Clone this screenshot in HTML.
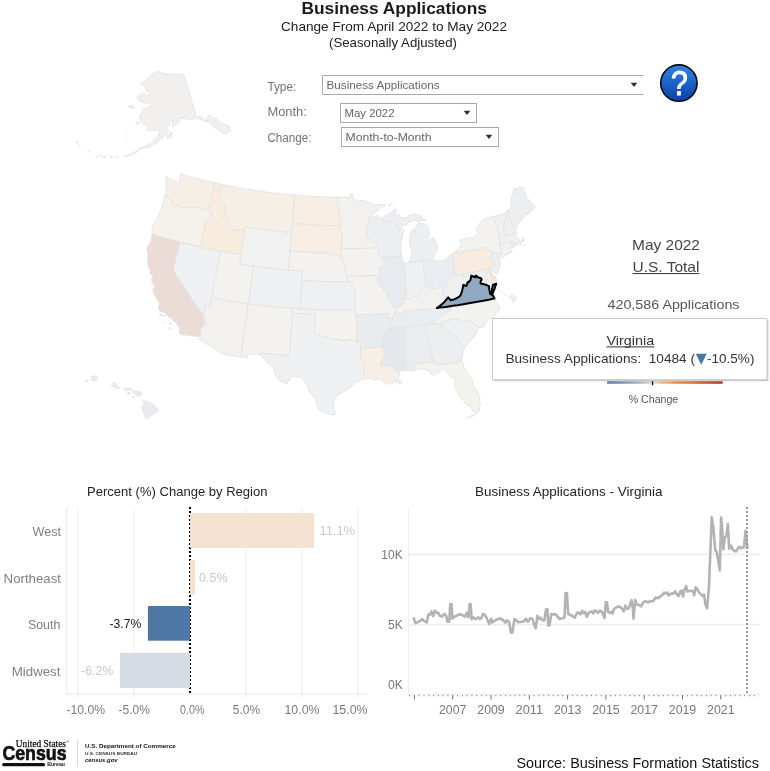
<!DOCTYPE html>
<html lang="en"><head><meta charset="utf-8"><title>Business Applications</title>
<style>
html,body{margin:0;padding:0;background:#fff;}
body{width:770px;height:771px;overflow:hidden;position:relative;}
svg{position:absolute;left:0;top:0;display:block;}
text{font-family:"Liberation Sans", sans-serif;}
</style></head><body>
<svg width="770" height="771" viewBox="0 0 770 771">
<rect width="770" height="771" fill="#fff"/>
<g id="map">
<g stroke="#e3e3e3" stroke-width="0.9" stroke-linejoin="round">
<path d="M180.0 173.9L182.2 174.6L184.5 175.2L186.8 175.9L189.1 176.5L191.5 177.1L193.8 177.7L196.1 178.3L198.4 178.9L200.7 179.5L203.0 180.1L205.3 180.6L207.6 181.2L210.0 181.7L212.3 182.3L214.6 182.8L213.9 186.1L213.1 189.5L212.4 192.8L211.6 196.2L210.8 199.5L210.1 202.9L209.3 206.3L209.4 208.4L209.2 210.3L207.0 209.8L204.8 209.3L202.6 208.8L200.5 208.3L198.3 207.7L196.1 207.2L193.9 207.3L191.9 207.3L189.9 207.3L187.8 207.4L185.7 207.5L183.4 207.3L181.1 207.0L179.5 206.2L177.8 205.4L175.9 205.6L173.9 205.7L172.6 204.9L171.3 204.0L171.7 201.7L171.0 199.2L169.6 198.2L168.2 197.2L166.5 196.7L164.8 196.2L165.6 194.2L166.3 192.3L166.1 189.7L166.1 187.0L166.0 184.4L165.6 180.3L166.0 178.1L166.5 175.9L168.4 177.5L170.3 179.1L172.0 179.9L173.8 180.7L175.3 181.2L176.8 181.7L178.0 184.0L177.9 186.9L179.2 184.4L180.1 181.7L179.4 179.6L180.9 176.6L180.0 173.9Z" fill="#f6efe6"/>
<path d="M164.8 196.2L166.5 196.7L168.2 197.2L169.6 198.2L171.0 199.2L171.7 201.7L171.3 204.0L172.6 204.9L173.9 205.7L175.9 205.6L177.8 205.4L179.5 206.2L181.1 207.0L183.4 207.3L185.7 207.5L187.8 207.4L189.9 207.3L191.9 207.3L193.9 207.3L196.1 207.2L198.3 207.7L200.5 208.3L202.6 208.8L204.8 209.3L207.0 209.8L209.2 210.3L210.2 212.4L210.8 215.4L209.2 217.5L207.6 219.6L205.8 221.6L204.2 224.1L205.3 226.8L204.0 230.1L203.3 233.4L202.5 236.8L201.8 240.2L201.0 243.6L200.3 247.0L197.8 246.4L195.2 245.8L192.7 245.2L190.2 244.6L187.7 244.0L185.2 243.4L182.7 242.8L180.2 242.1L177.7 241.5L175.1 240.8L172.5 240.1L170.0 239.4L167.4 238.7L164.9 238.0L162.3 237.3L159.7 236.5L157.2 235.8L154.7 235.0L152.1 234.3L152.0 230.2L152.2 228.2L152.5 226.1L154.1 223.8L155.7 221.5L156.9 218.9L158.1 216.3L159.3 213.2L160.4 210.1L161.4 208.0L162.4 205.8L163.5 202.7L164.5 199.5L164.8 196.2Z" fill="#f5f2ec"/>
<path d="M152.1 234.3L154.7 235.0L157.2 235.8L159.7 236.5L162.3 237.3L164.9 238.0L167.4 238.7L170.0 239.4L172.5 240.1L175.1 240.8L177.7 241.5L180.2 242.1L179.4 245.6L178.5 249.0L177.6 252.5L176.7 255.9L175.8 259.4L174.9 262.8L174.0 266.2L173.2 269.7L175.2 273.0L177.2 276.3L179.3 279.6L181.4 282.9L183.5 286.2L185.7 289.5L187.8 292.8L190.0 296.1L192.3 299.3L194.5 302.6L196.8 305.8L199.1 309.1L201.4 312.3L203.7 315.5L203.8 317.0L204.5 320.5L206.0 322.8L203.7 324.7L202.2 327.8L200.2 330.3L201.0 334.3L198.8 336.6L196.1 336.3L193.4 336.0L190.7 335.7L188.0 335.4L185.4 335.1L182.7 334.8L180.0 334.4L179.3 332.6L179.8 328.9L178.3 326.4L176.9 323.8L175.0 321.9L172.8 320.9L172.7 318.2L170.4 317.9L169.0 316.8L167.7 315.8L166.1 314.2L164.5 312.5L161.7 311.6L158.9 310.6L158.5 307.5L159.3 303.8L158.0 301.1L155.9 297.5L154.4 294.2L153.0 290.8L153.4 288.0L155.0 286.5L153.9 284.7L152.8 283.1L151.7 281.6L151.8 278.7L152.6 275.9L151.1 274.5L149.6 273.1L150.4 270.3L149.1 268.0L147.9 265.7L147.4 262.5L147.7 260.2L148.0 257.8L147.9 255.2L147.7 252.7L147.1 250.4L146.5 248.0L148.0 246.2L149.5 244.3L150.4 242.1L151.3 240.0L151.5 236.5L152.1 234.3Z" fill="#ecdcd8"/>
<path d="M180.2 242.1L182.7 242.8L185.2 243.4L187.7 244.0L190.2 244.6L192.7 245.2L195.2 245.8L197.8 246.4L200.3 247.0L202.8 247.5L205.3 248.1L207.9 248.6L210.4 249.1L212.9 249.7L215.5 250.2L218.0 250.7L220.6 251.2L219.9 254.7L219.2 258.3L218.5 261.9L217.8 265.5L217.2 269.1L216.5 272.7L215.8 276.2L215.1 279.8L214.4 283.4L213.7 287.0L213.1 290.6L212.4 294.2L211.7 297.8L211.0 301.5L210.3 305.2L207.5 305.2L204.8 305.6L204.7 307.8L204.5 309.9L204.5 313.8L203.7 315.5L201.4 312.3L199.1 309.1L196.8 305.8L194.5 302.6L192.3 299.3L190.0 296.1L187.8 292.8L185.7 289.5L183.5 286.2L181.4 282.9L179.3 279.6L177.2 276.3L175.2 273.0L173.2 269.7L174.0 266.2L174.9 262.8L175.8 259.4L176.7 255.9L177.6 252.5L178.5 249.0L179.4 245.6L180.2 242.1Z" fill="#eef0f2"/>
<path d="M214.6 182.8L216.6 183.2L218.6 183.7L220.6 184.1L220.0 187.1L219.3 190.1L218.7 193.2L219.3 195.7L219.9 198.2L220.9 199.6L221.9 201.0L223.1 202.5L224.3 203.9L225.6 207.5L226.8 207.7L226.1 210.0L225.3 212.2L224.5 214.7L223.7 217.1L225.1 218.4L227.6 217.4L228.3 219.0L228.9 222.0L229.6 225.0L230.6 226.6L231.7 228.2L233.0 230.4L234.7 230.2L236.5 230.0L239.1 230.2L241.8 230.5L243.4 229.3L244.7 231.4L244.2 234.7L243.7 238.1L243.1 241.4L242.6 244.7L242.1 248.1L241.5 251.4L241.0 254.7L238.5 254.3L235.9 253.9L233.3 253.5L230.8 253.0L228.2 252.6L225.7 252.1L223.1 251.6L220.6 251.2L218.0 250.7L215.5 250.2L212.9 249.7L210.4 249.1L207.9 248.6L205.3 248.1L202.8 247.5L200.3 247.0L201.0 243.6L201.8 240.2L202.5 236.8L203.3 233.4L204.0 230.1L205.3 226.8L204.2 224.1L205.8 221.6L207.6 219.6L209.2 217.5L210.8 215.4L210.2 212.4L209.2 210.3L209.4 208.4L209.3 206.3L210.1 202.9L210.8 199.5L211.6 196.2L212.4 192.8L213.1 189.5L213.9 186.1L214.6 182.8Z" fill="#f8ecdf"/>
<path d="M220.6 184.1L223.0 184.6L225.5 185.1L227.9 185.6L230.4 186.1L232.8 186.6L235.3 187.0L237.8 187.5L240.2 187.9L242.7 188.3L245.1 188.8L247.6 189.2L250.1 189.6L252.5 190.0L255.0 190.4L257.5 190.7L260.0 191.1L262.4 191.4L264.9 191.8L267.4 192.1L269.9 192.4L272.3 192.7L274.8 193.0L277.3 193.3L279.8 193.6L282.3 193.9L284.7 194.1L287.2 194.4L289.7 194.6L292.2 194.8L294.7 195.0L294.4 198.6L294.1 202.1L293.8 205.7L293.5 209.2L293.2 212.8L292.9 216.4L292.6 219.9L292.3 223.5L292.1 226.4L291.8 229.4L291.6 232.3L289.0 232.1L286.4 231.9L283.9 231.6L281.3 231.4L278.7 231.1L276.2 230.8L273.6 230.6L271.0 230.3L268.5 230.0L265.9 229.6L263.3 229.3L260.8 229.0L258.2 228.6L255.7 228.3L253.1 227.9L250.6 227.5L248.0 227.1L245.4 226.7L245.1 229.1L244.7 231.4L243.4 229.3L241.8 230.5L239.1 230.2L236.5 230.0L234.7 230.2L233.0 230.4L231.7 228.2L230.6 226.6L229.6 225.0L228.9 222.0L228.3 219.0L227.6 217.4L225.1 218.4L223.7 217.1L224.5 214.7L225.3 212.2L226.1 210.0L226.8 207.7L225.6 207.5L224.3 203.9L223.1 202.5L221.9 201.0L220.9 199.6L219.9 198.2L219.3 195.7L218.7 193.2L219.3 190.1L220.0 187.1L220.6 184.1Z" fill="#f6efe6"/>
<path d="M245.4 226.7L248.0 227.1L250.6 227.5L253.1 227.9L255.7 228.3L258.2 228.6L260.8 229.0L263.3 229.3L265.9 229.6L268.5 230.0L271.0 230.3L273.6 230.6L276.2 230.8L278.7 231.1L281.3 231.4L283.9 231.6L286.4 231.9L289.0 232.1L291.6 232.3L291.3 236.1L290.9 239.8L290.6 243.6L290.3 247.4L290.0 251.1L289.7 254.9L289.4 258.7L289.1 262.4L288.7 266.2L288.4 270.0L285.7 269.8L283.0 269.5L280.3 269.3L277.6 269.0L274.9 268.7L272.3 268.4L269.6 268.2L266.9 267.8L264.2 267.5L261.5 267.2L258.8 266.9L256.1 266.5L253.5 266.1L250.7 265.8L247.9 265.4L245.1 264.9L242.3 264.5L239.5 264.1L240.0 261.0L240.5 257.8L241.0 254.7L241.5 251.4L242.1 248.1L242.6 244.7L243.1 241.4L243.7 238.1L244.2 234.7L244.7 231.4L245.1 229.1L245.4 226.7Z" fill="#f1f1f1"/>
<path d="M220.6 251.2L223.1 251.6L225.7 252.1L228.2 252.6L230.8 253.0L233.3 253.5L235.9 253.9L238.5 254.3L241.0 254.7L240.5 257.8L240.0 261.0L239.5 264.1L242.3 264.5L245.1 264.9L247.9 265.4L250.7 265.8L253.5 266.1L252.9 269.9L252.4 273.7L251.9 277.4L251.4 281.2L250.9 284.9L250.4 288.7L249.8 292.5L249.3 296.2L248.8 300.0L248.3 303.8L245.5 303.4L242.6 303.0L239.8 302.5L237.0 302.1L234.2 301.7L231.4 301.2L228.5 300.8L225.7 300.3L222.9 299.8L220.1 299.3L217.3 298.8L214.5 298.3L211.7 297.8L212.4 294.2L213.1 290.6L213.7 287.0L214.4 283.4L215.1 279.8L215.8 276.2L216.5 272.7L217.2 269.1L217.8 265.5L218.5 261.9L219.2 258.3L219.9 254.7L220.6 251.2Z" fill="#f4f2ee"/>
<path d="M253.5 266.1L256.1 266.5L258.8 266.9L261.5 267.2L264.2 267.5L266.9 267.8L269.6 268.2L272.3 268.4L274.9 268.7L277.6 269.0L280.3 269.3L283.0 269.5L285.7 269.8L288.4 270.0L291.2 270.2L294.0 270.4L296.8 270.7L299.7 270.8L302.5 271.0L302.3 274.2L302.1 277.3L301.9 280.5L301.6 284.0L301.4 287.6L301.2 291.1L301.0 294.7L300.8 298.3L300.5 301.8L300.3 305.4L300.1 308.9L297.7 308.8L295.2 308.6L292.8 308.4L290.0 308.2L287.2 308.0L284.4 307.8L281.7 307.5L278.9 307.3L276.1 307.0L273.3 306.7L270.5 306.4L267.7 306.1L265.0 305.8L262.2 305.5L259.4 305.2L256.6 304.8L253.8 304.5L251.1 304.1L248.3 303.8L248.8 300.0L249.3 296.2L249.8 292.5L250.4 288.7L250.9 284.9L251.4 281.2L251.9 277.4L252.4 273.7L252.9 269.9L253.5 266.1Z" fill="#eef0f2"/>
<path d="M211.7 297.8L214.5 298.3L217.3 298.8L220.1 299.3L222.9 299.8L225.7 300.3L228.5 300.8L231.4 301.2L234.2 301.7L237.0 302.1L239.8 302.5L242.6 303.0L245.5 303.4L248.3 303.8L247.8 307.3L247.3 310.9L246.8 314.4L246.4 318.0L245.9 321.5L245.4 325.1L244.9 328.6L244.4 332.2L243.9 335.7L243.4 339.3L243.0 342.8L242.5 346.4L242.0 349.9L241.5 353.4L241.0 357.0L238.3 356.6L235.7 356.2L233.0 355.8L230.3 355.4L227.7 355.0L225.0 354.6L222.2 353.0L219.5 351.5L216.7 349.9L213.9 348.3L211.2 346.7L208.5 345.0L205.7 343.4L203.0 341.8L200.3 340.1L197.6 338.5L198.8 336.6L201.0 334.3L200.2 330.3L202.2 327.8L203.7 324.7L206.0 322.8L204.5 320.5L203.8 317.0L203.7 315.5L204.5 313.8L204.5 309.9L204.7 307.8L204.8 305.6L207.5 305.2L210.3 305.2L211.0 301.5L211.7 297.8Z" fill="#f2f1ef"/>
<path d="M248.3 303.8L251.1 304.1L253.8 304.5L256.6 304.8L259.4 305.2L262.2 305.5L265.0 305.8L267.7 306.1L270.5 306.4L273.3 306.7L276.1 307.0L278.9 307.3L281.7 307.5L284.4 307.8L287.2 308.0L290.0 308.2L292.8 308.4L292.6 310.8L292.5 313.2L292.2 316.7L291.9 320.3L291.6 323.8L291.4 327.3L291.1 330.9L290.8 334.4L290.5 338.0L290.2 341.5L290.0 345.1L289.7 348.6L289.4 352.1L289.1 355.7L286.0 355.4L282.9 355.2L279.7 354.9L276.6 354.6L273.5 354.3L270.4 354.0L267.2 353.7L264.1 353.4L261.0 353.1L261.5 355.2L258.8 354.9L256.2 354.6L253.5 354.3L250.9 354.0L248.2 353.6L247.9 355.7L247.7 357.8L245.5 357.6L243.2 357.3L241.0 357.0L241.5 353.4L242.0 349.9L242.5 346.4L243.0 342.8L243.4 339.3L243.9 335.7L244.4 332.2L244.9 328.6L245.4 325.1L245.9 321.5L246.4 318.0L246.8 314.4L247.3 310.9L247.8 307.3L248.3 303.8Z" fill="#f4f2ee"/>
<path d="M294.7 195.0L297.1 195.2L299.4 195.4L301.8 195.6L304.1 195.7L306.5 195.9L308.9 196.0L311.2 196.2L313.6 196.3L315.9 196.4L318.3 196.5L320.7 196.6L323.0 196.7L325.4 196.8L327.8 196.9L330.1 196.9L332.5 197.0L334.9 197.0L337.2 197.1L337.5 199.4L337.7 201.7L338.0 204.0L338.3 206.4L338.9 208.7L339.5 211.1L339.6 213.9L339.8 216.7L340.4 219.5L341.0 222.3L341.3 225.8L338.7 225.7L336.1 225.7L333.5 225.7L331.0 225.6L328.4 225.6L325.8 225.5L323.2 225.4L320.6 225.3L318.1 225.2L315.5 225.1L312.9 224.9L310.3 224.8L307.8 224.6L305.2 224.5L302.6 224.3L300.0 224.1L297.5 223.9L294.9 223.7L292.3 223.5L292.6 219.9L292.9 216.4L293.2 212.8L293.5 209.2L293.8 205.7L294.1 202.1L294.4 198.6L294.7 195.0Z" fill="#f7ede2"/>
<path d="M292.3 223.5L294.9 223.7L297.5 223.9L300.0 224.1L302.6 224.3L305.2 224.5L307.8 224.6L310.3 224.8L312.9 224.9L315.5 225.1L318.1 225.2L320.6 225.3L323.2 225.4L325.8 225.5L328.4 225.6L331.0 225.6L333.5 225.7L336.1 225.7L338.7 225.7L341.3 225.8L339.4 228.9L342.0 231.7L342.0 235.1L342.0 238.5L341.9 241.9L341.9 245.3L341.9 248.7L341.0 250.6L341.6 254.3L341.9 258.1L340.2 257.2L338.5 256.0L336.8 254.8L334.4 255.1L332.0 255.5L329.9 254.3L327.9 253.2L325.2 253.1L322.5 253.0L319.8 252.9L317.1 252.8L314.3 252.7L311.6 252.6L308.9 252.4L306.2 252.3L303.5 252.1L300.8 251.9L298.1 251.8L295.4 251.6L292.7 251.3L290.0 251.1L290.3 247.4L290.6 243.6L290.9 239.8L291.3 236.1L291.6 232.3L291.8 229.4L292.1 226.4L292.3 223.5Z" fill="#f7ede2"/>
<path d="M290.0 251.1L292.7 251.3L295.4 251.6L298.1 251.8L300.8 251.9L303.5 252.1L306.2 252.3L308.9 252.4L311.6 252.6L314.3 252.7L317.1 252.8L319.8 252.9L322.5 253.0L325.2 253.1L327.9 253.2L329.9 254.3L332.0 255.5L334.4 255.1L336.8 254.8L338.5 256.0L340.2 257.2L341.9 258.1L342.6 261.0L343.4 263.3L344.3 265.7L345.0 267.6L345.7 269.5L345.9 272.1L346.1 274.7L346.6 276.3L348.2 279.0L349.9 281.8L347.1 281.8L344.3 281.8L341.5 281.8L338.6 281.8L335.8 281.8L333.0 281.7L330.1 281.7L327.3 281.6L324.5 281.5L321.7 281.4L318.8 281.3L316.0 281.2L313.2 281.1L310.3 281.0L307.5 280.8L304.7 280.7L301.9 280.5L302.1 277.3L302.3 274.2L302.5 271.0L299.7 270.8L296.8 270.7L294.0 270.4L291.2 270.2L288.4 270.0L288.7 266.2L289.1 262.4L289.4 258.7L289.7 254.9L290.0 251.1Z" fill="#f3f2f0"/>
<path d="M301.9 280.5L304.7 280.7L307.5 280.8L310.3 281.0L313.2 281.1L316.0 281.2L318.8 281.3L321.7 281.4L324.5 281.5L327.3 281.6L330.1 281.7L333.0 281.7L335.8 281.8L338.6 281.8L341.5 281.8L344.3 281.8L347.1 281.8L349.9 281.8L352.2 282.7L352.9 284.1L351.5 286.0L352.9 287.9L355.1 290.2L355.1 293.5L355.2 296.9L355.2 300.2L355.2 303.5L355.3 306.9L355.3 310.2L352.4 310.2L349.5 310.3L346.6 310.3L343.7 310.3L340.8 310.3L337.9 310.3L335.0 310.2L332.1 310.2L329.1 310.1L326.2 310.1L323.3 310.0L320.4 309.9L317.5 309.8L314.6 309.7L311.7 309.5L308.8 309.4L305.9 309.3L303.0 309.1L300.1 308.9L300.3 305.4L300.5 301.8L300.8 298.3L301.0 294.7L301.2 291.1L301.4 287.6L301.6 284.0L301.9 280.5Z" fill="#eef0f2"/>
<path d="M292.8 308.4L295.2 308.6L297.7 308.8L300.1 308.9L303.0 309.1L305.9 309.3L308.8 309.4L311.7 309.5L314.6 309.7L317.5 309.8L320.4 309.9L323.3 310.0L326.2 310.1L329.1 310.1L332.1 310.2L335.0 310.2L337.9 310.3L340.8 310.3L343.7 310.3L346.6 310.3L349.5 310.3L352.4 310.2L355.3 310.2L355.4 312.6L355.4 315.0L355.9 318.4L356.5 321.9L357.0 325.4L357.0 328.7L357.0 332.0L356.9 335.4L356.9 338.7L356.9 342.1L354.9 341.1L352.8 340.1L350.9 340.0L349.0 339.9L347.0 340.5L345.1 341.1L342.8 340.6L340.4 340.2L338.1 339.2L335.8 339.6L333.9 339.2L331.9 338.8L328.9 337.4L326.9 337.2L325.0 337.1L322.7 336.3L320.4 335.5L318.5 335.0L316.6 334.4L314.4 332.8L314.5 329.2L314.7 325.5L314.8 321.8L315.0 318.1L315.1 314.4L312.3 314.3L309.5 314.2L306.6 314.0L303.8 313.9L301.0 313.7L298.1 313.5L295.3 313.4L292.5 313.2L292.6 310.8L292.8 308.4Z" fill="#f3f2ee"/>
<path d="M292.5 313.2L295.3 313.4L298.1 313.5L301.0 313.7L303.8 313.9L306.6 314.0L309.5 314.2L312.3 314.3L315.1 314.4L315.0 318.1L314.8 321.8L314.7 325.5L314.5 329.2L314.4 332.8L316.6 334.4L318.5 335.0L320.4 335.5L322.7 336.3L325.0 337.1L326.9 337.2L328.9 337.4L331.9 338.8L333.9 339.2L335.8 339.6L338.1 339.2L340.4 340.2L342.8 340.6L345.1 341.1L347.0 340.5L349.0 339.9L350.9 340.0L352.8 340.1L354.9 341.1L356.9 342.1L358.6 342.4L360.3 342.8L360.4 345.3L360.5 347.9L360.5 351.1L360.6 354.3L360.7 357.5L362.7 361.2L363.7 363.1L364.8 364.9L364.2 367.8L363.7 370.6L363.7 373.0L363.7 375.3L363.2 377.2L362.7 379.1L360.4 380.3L358.1 381.4L355.8 382.6L353.8 384.5L351.7 386.4L348.4 388.5L345.1 390.6L342.7 392.0L340.2 393.4L337.7 394.8L336.0 397.4L334.3 399.9L333.8 402.3L333.4 404.6L333.8 406.9L334.1 409.3L334.8 411.8L335.4 414.3L332.4 415.0L329.4 414.1L326.4 413.2L323.9 412.1L321.4 411.0L318.9 409.9L317.5 407.0L316.1 404.2L316.0 401.8L315.8 399.5L313.7 396.9L311.6 394.3L309.5 391.7L308.6 389.2L307.8 386.7L306.9 384.1L304.0 380.8L301.1 377.5L298.7 377.0L296.3 376.5L293.9 376.0L292.2 376.8L290.5 377.5L288.6 380.8L286.7 384.0L285.1 383.7L282.3 382.1L279.6 380.4L277.7 378.6L275.8 376.8L275.2 374.6L274.5 372.4L274.0 370.0L273.4 367.6L271.5 366.2L269.6 364.9L266.7 361.7L263.8 358.6L261.5 355.2L261.0 353.1L264.1 353.4L267.2 353.7L270.4 354.0L273.5 354.3L276.6 354.6L279.7 354.9L282.9 355.2L286.0 355.4L289.1 355.7L289.4 352.1L289.7 348.6L290.0 345.1L290.2 341.5L290.5 338.0L290.8 334.4L291.1 330.9L291.4 327.3L291.6 323.8L291.9 320.3L292.2 316.7L292.5 313.2Z" fill="#eff0f1"/>
<path d="M337.2 197.1L339.4 197.1L341.6 197.1L343.7 197.1L345.9 197.1L348.1 197.1L350.2 197.1L350.2 193.5L352.2 194.1L352.8 196.8L353.5 199.4L355.9 199.9L358.4 200.4L359.8 200.5L361.3 200.6L362.7 200.4L364.1 200.3L365.7 201.3L367.3 202.2L368.7 202.6L370.2 203.0L372.1 204.0L374.1 205.0L375.9 204.5L377.8 204.1L380.4 204.4L382.9 204.7L384.6 204.8L386.2 204.8L384.5 205.8L382.9 206.7L381.2 207.6L379.1 209.4L376.9 211.1L374.8 213.1L372.6 215.1L370.2 217.4L369.0 218.4L369.1 221.2L369.2 224.0L368.8 224.4L366.6 225.7L365.5 228.5L367.1 230.3L366.5 234.1L366.3 236.5L368.0 237.6L369.7 238.7L372.5 240.5L374.2 241.8L376.0 243.2L376.9 245.0L377.4 247.8L374.9 247.9L372.3 248.1L369.8 248.2L367.3 248.3L364.7 248.3L362.2 248.4L359.7 248.5L357.1 248.5L354.6 248.6L352.1 248.6L349.5 248.6L347.0 248.7L344.5 248.7L341.9 248.7L341.9 245.3L341.9 241.9L342.0 238.5L342.0 235.1L342.0 231.7L339.4 228.9L341.3 225.8L341.0 222.3L340.4 219.5L339.8 216.7L339.6 213.9L339.5 211.1L338.9 208.7L338.3 206.4L338.0 204.0L337.7 201.7L337.5 199.4L337.2 197.1Z" fill="#f2f1ef"/>
<path d="M341.9 248.7L344.5 248.7L347.0 248.7L349.5 248.6L352.1 248.6L354.6 248.6L357.1 248.5L359.7 248.5L362.2 248.4L364.7 248.3L367.3 248.3L369.8 248.2L372.3 248.1L374.9 247.9L377.4 247.8L378.4 250.6L378.0 253.5L380.0 255.4L381.8 257.0L383.7 259.3L385.6 261.6L385.5 263.5L383.7 265.9L381.8 266.7L380.0 267.4L379.4 269.5L380.6 271.8L379.6 274.7L377.5 277.4L375.2 275.3L372.6 275.5L370.0 275.6L367.4 275.7L364.8 275.8L362.2 275.9L359.6 276.0L357.0 276.1L354.4 276.2L351.8 276.2L349.2 276.3L346.6 276.3L346.1 274.7L345.9 272.1L345.7 269.5L345.0 267.6L344.3 265.7L343.4 263.3L342.6 261.0L341.9 258.1L341.6 254.3L341.0 250.6L341.9 248.7Z" fill="#f3f2f0"/>
<path d="M346.6 276.3L349.2 276.3L351.8 276.2L354.4 276.2L357.0 276.1L359.6 276.0L362.2 275.9L364.8 275.8L367.4 275.7L370.0 275.6L372.6 275.5L375.2 275.3L377.5 277.4L377.1 281.0L378.3 283.3L380.6 286.1L383.3 289.2L384.1 291.1L385.8 291.5L387.5 291.8L387.2 293.8L386.4 297.6L388.1 298.9L389.8 300.3L391.5 303.0L393.2 305.7L393.7 307.6L396.1 308.6L395.8 311.7L393.7 313.3L393.5 315.7L392.5 318.2L390.0 318.3L387.5 318.5L388.2 316.1L388.8 313.6L386.0 313.8L383.3 314.0L380.5 314.1L377.7 314.3L374.9 314.4L372.1 314.5L369.3 314.6L366.5 314.7L363.8 314.8L361.0 314.8L358.2 314.9L355.4 315.0L355.4 312.6L355.3 310.2L355.3 306.9L355.2 303.5L355.2 300.2L355.2 296.9L355.1 293.5L355.1 290.2L352.9 287.9L351.5 286.0L352.9 284.1L352.2 282.7L349.9 281.8L348.2 279.0L346.6 276.3Z" fill="#f3f2f0"/>
<path d="M355.4 315.0L358.2 314.9L361.0 314.8L363.8 314.8L366.5 314.7L369.3 314.6L372.1 314.5L374.9 314.4L377.7 314.3L380.5 314.1L383.3 314.0L386.0 313.8L388.8 313.6L388.2 316.1L387.5 318.5L390.0 318.3L392.5 318.2L393.0 320.0L390.2 324.0L390.0 326.4L388.6 327.9L386.9 331.8L384.4 335.8L383.7 337.7L383.1 339.6L382.5 343.4L382.9 347.2L380.1 347.3L377.3 347.4L374.5 347.5L371.7 347.6L368.9 347.7L366.1 347.8L363.3 347.8L360.5 347.9L360.4 345.3L360.3 342.8L358.6 342.4L356.9 342.1L356.9 338.7L356.9 335.4L357.0 332.0L357.0 328.7L357.0 325.4L356.5 321.9L355.9 318.4L355.4 315.0Z" fill="#e9ecef"/>
<path d="M360.5 347.9L363.3 347.8L366.1 347.8L368.9 347.7L371.7 347.6L374.5 347.5L377.3 347.4L380.1 347.3L382.9 347.2L383.7 351.0L385.4 353.7L384.3 356.1L383.3 358.6L382.2 360.5L381.1 362.4L380.5 366.3L383.5 366.1L386.5 365.9L389.5 365.8L392.5 365.6L395.5 365.4L394.7 368.3L396.5 371.5L397.7 373.0L400.0 374.0L398.9 376.5L397.4 378.5L400.8 380.6L402.2 382.8L399.5 384.5L398.1 382.2L395.1 381.5L393.6 383.0L391.6 383.6L389.5 384.2L387.9 383.8L386.2 383.4L384.5 382.3L382.8 381.2L380.7 380.1L378.6 379.1L375.4 380.1L372.5 379.3L369.6 378.5L367.3 378.7L365.0 378.9L362.7 379.1L363.2 377.2L363.7 375.3L363.7 373.0L363.7 370.6L364.2 367.8L364.8 364.9L363.7 363.1L362.7 361.2L360.7 357.5L360.6 354.3L360.5 351.1L360.5 347.9Z" fill="#f7efe6"/>
<path d="M388.6 327.9L391.2 327.7L393.9 327.6L396.6 327.4L399.2 327.2L401.9 327.0L404.6 326.8L405.4 327.6L405.4 331.2L405.3 334.8L405.2 338.4L405.2 341.9L405.1 345.5L405.0 349.1L405.0 352.6L404.9 356.2L405.3 359.8L405.7 363.4L406.2 367.1L406.6 370.7L404.6 370.6L402.5 370.6L399.4 371.7L397.7 373.0L396.5 371.5L394.7 368.3L395.5 365.4L392.5 365.6L389.5 365.8L386.5 365.9L383.5 366.1L380.5 366.3L381.1 362.4L382.2 360.5L383.3 358.6L384.3 356.1L385.4 353.7L383.7 351.0L382.9 347.2L382.5 343.4L383.1 339.6L383.7 337.7L384.4 335.8L386.9 331.8L388.6 327.9Z" fill="#e4e8ed"/>
<path d="M404.6 326.8L407.4 326.5L410.2 326.3L413.1 326.1L415.9 325.8L418.7 325.6L421.5 325.3L424.4 325.0L425.3 328.3L426.2 331.5L427.1 334.8L428.0 338.0L428.9 341.3L429.8 344.5L430.8 347.1L431.9 349.7L431.9 353.0L431.8 356.4L432.6 359.1L433.3 361.9L430.3 362.2L427.4 362.6L424.4 362.9L421.4 363.2L418.5 363.5L415.5 363.8L412.5 364.1L414.4 367.2L413.8 370.8L410.7 371.3L411.2 367.9L409.6 367.1L409.0 370.5L406.6 370.7L406.2 367.1L405.7 363.4L405.3 359.8L404.9 356.2L405.0 352.6L405.0 349.1L405.1 345.5L405.2 341.9L405.2 338.4L405.3 334.8L405.4 331.2L405.4 327.6L404.6 326.8Z" fill="#eaedf0"/>
<path d="M424.4 325.0L426.8 324.7L429.2 324.4L431.6 324.1L434.0 323.8L436.4 323.5L438.7 323.1L441.0 322.8L443.3 322.5L441.8 325.6L443.6 326.5L445.5 327.4L446.9 329.2L448.3 330.9L451.9 333.7L454.1 335.6L456.2 337.5L458.3 339.4L459.6 343.1L461.2 345.2L462.7 347.4L464.8 347.7L463.9 350.1L463.1 352.5L462.7 354.8L462.2 357.0L462.0 360.7L459.7 360.8L457.5 361.0L457.7 364.7L456.2 363.1L453.1 363.4L450.1 363.6L447.0 363.8L443.9 364.0L440.9 364.2L437.8 364.4L434.7 364.6L433.3 361.9L432.6 359.1L431.8 356.4L431.9 353.0L431.9 349.7L430.8 347.1L429.8 344.5L428.9 341.3L428.0 338.0L427.1 334.8L426.2 331.5L425.3 328.3L424.4 325.0Z" fill="#eceef0"/>
<path d="M433.3 361.9L434.7 364.6L437.8 364.4L440.9 364.2L443.9 364.0L447.0 363.8L450.1 363.6L453.1 363.4L456.2 363.1L457.7 364.7L457.5 361.0L459.7 360.8L462.0 360.7L462.5 362.6L463.0 364.5L463.9 366.7L464.9 369.0L466.4 371.6L467.8 374.2L470.2 377.4L472.6 380.6L472.7 383.9L474.5 386.9L476.3 389.9L477.8 392.5L479.3 395.1L479.6 397.9L480.0 400.7L480.3 403.4L479.7 406.4L479.1 409.3L476.4 411.2L473.0 411.7L471.4 408.9L469.9 406.1L467.8 405.0L465.7 403.9L463.4 400.5L460.4 397.2L458.8 395.0L457.2 392.9L456.3 390.7L455.3 388.4L454.5 385.7L454.7 382.4L454.8 379.0L453.3 377.3L450.8 376.8L449.2 374.8L447.7 372.9L444.9 370.4L442.3 369.3L439.7 371.1L437.3 373.0L434.8 375.0L431.9 374.7L431.3 373.0L428.6 370.5L426.0 369.7L423.5 368.9L421.1 369.3L418.7 369.7L416.3 370.0L413.8 370.8L414.4 367.2L412.5 364.1L415.5 363.8L418.5 363.5L421.4 363.2L424.4 362.9L427.4 362.6L430.3 362.2L433.3 361.9Z" fill="#f4f2ec"/>
<path d="M443.3 322.5L445.8 321.2L448.3 319.9L450.9 319.6L453.4 319.3L456.0 319.1L458.5 318.8L458.8 319.7L459.5 319.1L461.1 321.5L463.9 321.1L466.7 320.7L469.5 320.3L472.8 322.7L476.2 325.1L479.6 327.5L478.1 329.3L476.6 331.1L475.4 335.1L473.0 337.5L470.7 340.3L469.1 342.2L467.4 344.2L464.8 347.7L462.7 347.4L461.2 345.2L459.6 343.1L458.3 339.4L456.2 337.5L454.1 335.6L451.9 333.7L448.3 330.9L446.9 329.2L445.5 327.4L443.6 326.5L441.8 325.6L443.3 322.5Z" fill="#eef0f2"/>
<path d="M434.0 323.8L434.0 321.8L435.6 319.7L437.6 318.6L439.5 317.5L440.9 316.4L442.3 315.2L444.0 313.9L445.7 312.6L447.7 311.8L449.7 311.0L450.7 308.5L451.7 306.0L454.6 305.6L457.5 305.2L460.3 304.7L463.2 304.3L466.0 303.8L468.9 303.3L471.8 302.8L474.6 302.3L477.5 301.8L480.3 301.3L483.2 300.8L486.0 300.2L488.8 299.7L491.7 299.1L494.5 298.5L496.1 301.6L497.5 303.4L498.9 305.3L499.3 307.8L499.7 310.2L498.1 311.3L496.5 312.4L495.0 315.0L493.5 317.6L491.3 317.8L489.1 318.1L487.9 319.7L486.6 321.4L485.4 324.1L484.1 326.8L481.8 327.2L479.6 327.5L476.2 325.1L472.8 322.7L469.5 320.3L466.7 320.7L463.9 321.1L461.1 321.5L459.5 319.1L458.8 319.7L458.5 318.8L456.0 319.1L453.4 319.3L450.9 319.6L448.3 319.9L445.8 321.2L443.3 322.5L441.0 322.8L438.7 323.1L436.4 323.5L434.0 323.8Z" fill="#f2f2f0"/>
<path d="M393.7 313.3L396.4 313.1L399.1 312.9L401.8 312.7L404.5 312.5L404.2 310.8L407.2 310.6L410.2 310.4L413.1 310.2L416.1 310.0L419.1 309.7L422.1 309.5L425.0 309.2L428.0 308.9L431.0 308.6L433.9 308.3L436.9 308.0L439.9 307.6L442.8 307.3L445.8 306.9L448.8 306.4L451.7 306.0L450.7 308.5L449.7 311.0L447.7 311.8L445.7 312.6L444.0 313.9L442.3 315.2L440.9 316.4L439.5 317.5L437.6 318.6L435.6 319.7L434.0 321.8L434.0 323.8L431.6 324.1L429.2 324.4L426.8 324.7L424.4 325.0L421.5 325.3L418.7 325.6L415.9 325.8L413.1 326.1L410.2 326.3L407.4 326.5L404.6 326.8L401.9 327.0L399.2 327.2L396.6 327.4L393.9 327.6L391.2 327.7L388.6 327.9L390.0 326.4L390.2 324.0L393.0 320.0L392.5 318.2L393.5 315.7L393.7 313.3Z" fill="#e9edf0"/>
<path d="M396.1 308.6L396.9 306.4L398.4 306.8L400.0 307.1L400.6 304.5L402.9 303.4L403.0 301.2L403.5 300.2L404.5 299.1L406.8 298.3L408.6 298.9L410.4 299.6L412.5 297.6L414.6 296.8L415.9 295.7L417.9 297.2L419.7 294.1L420.8 291.8L421.9 289.5L423.8 287.5L425.6 285.5L427.9 285.2L430.4 287.8L432.3 288.3L434.2 288.7L436.0 288.6L437.9 288.5L440.2 287.0L442.5 289.8L442.7 291.8L443.0 293.8L445.6 296.3L448.2 297.4L445.9 300.1L443.6 302.8L440.9 305.1L438.9 306.6L436.9 308.0L433.9 308.3L431.0 308.6L428.0 308.9L425.0 309.2L422.1 309.5L419.1 309.7L416.1 310.0L413.1 310.2L410.2 310.4L407.2 310.6L404.2 310.8L404.5 312.5L401.8 312.7L399.1 312.9L396.4 313.1L393.7 313.3L395.8 311.7L396.1 308.6Z" fill="#f2f1ef"/>
<path d="M442.5 289.8L445.1 287.7L445.3 284.3L447.6 282.5L448.7 280.7L451.1 279.1L453.0 275.9L453.4 273.5L453.8 271.0L453.7 268.1L454.0 266.7L454.5 269.6L455.0 272.5L455.4 275.3L457.9 274.9L460.3 274.5L462.8 274.1L463.2 276.5L463.6 278.9L465.9 276.1L468.1 274.3L470.6 273.6L471.9 273.0L473.2 272.3L474.5 273.1L475.9 275.5L475.5 277.4L473.4 276.5L471.3 275.6L470.6 279.6L468.7 282.2L467.7 282.1L466.6 285.3L466.2 286.0L463.4 284.8L462.8 287.8L462.1 290.8L460.9 294.5L460.4 295.4L459.3 296.7L456.7 298.1L454.1 299.4L452.5 299.8L450.8 300.3L448.2 297.4L445.6 296.3L443.0 293.8L442.7 291.8L442.5 289.8Z" fill="#eff0f2"/>
<path d="M462.8 274.1L465.4 273.6L468.0 273.1L470.6 272.6L473.2 272.1L475.8 271.6L478.4 271.1L481.0 270.6L483.5 270.1L486.1 269.5L488.7 269.0L489.5 271.9L490.3 274.7L491.1 277.6L491.9 280.5L494.2 280.1L496.5 279.6L496.3 281.7L496.0 283.8L493.4 284.7L490.6 283.3L487.6 280.1L486.9 276.3L487.2 274.1L487.4 271.9L486.9 271.0L485.5 274.2L485.8 277.6L486.4 279.8L487.0 282.1L488.3 284.8L489.0 286.1L486.1 284.8L484.5 284.4L482.9 284.0L480.6 283.5L480.6 281.5L481.7 279.5L480.9 278.3L477.9 277.2L475.9 275.5L474.5 273.1L473.2 272.3L471.9 273.0L470.6 273.6L468.1 274.3L465.9 276.1L463.6 278.9L463.2 276.5L462.8 274.1Z" fill="#eef0f2"/>
<path d="M488.7 269.0L489.8 267.7L491.1 267.7L490.4 270.3L492.2 273.3L493.7 275.3L495.5 276.4L496.5 279.6L494.2 280.1L491.9 280.5L491.1 277.6L490.3 274.7L489.5 271.9L488.7 269.0Z" fill="#f8e6d2"/>
<path d="M454.0 266.7L453.5 263.6L453.0 260.5L452.5 257.3L451.9 254.2L453.2 253.2L454.5 252.1L456.7 250.6L457.1 253.1L459.6 252.7L462.1 252.2L464.6 251.8L467.1 251.3L469.6 250.8L472.1 250.3L474.6 249.8L477.1 249.3L479.6 248.8L482.1 248.3L484.6 247.7L487.1 247.2L490.0 250.4L492.9 252.1L491.8 254.2L490.7 256.3L490.9 259.4L492.9 261.2L494.8 262.9L493.2 266.2L491.1 267.7L489.8 267.7L488.7 269.0L486.1 269.5L483.5 270.1L481.0 270.6L478.4 271.1L475.8 271.6L473.2 272.1L470.6 272.6L468.0 273.1L465.4 273.6L462.8 274.1L460.3 274.5L457.9 274.9L455.4 275.3L455.0 272.5L454.5 269.6L454.0 266.7Z" fill="#f8ebdf"/>
<path d="M492.9 252.1L496.0 253.1L499.1 254.1L498.9 257.1L497.8 259.5L499.6 259.4L500.2 262.4L500.7 265.5L499.1 269.7L497.7 272.4L496.3 275.0L496.1 272.9L494.2 272.3L492.1 271.1L490.9 269.8L491.1 267.7L493.2 266.2L494.8 262.9L492.9 261.2L490.9 259.4L490.7 256.3L491.8 254.2L492.9 252.1Z" fill="#eceef1"/>
<path d="M456.7 250.6L458.6 248.2L460.4 245.8L461.4 243.7L459.8 240.5L462.1 239.8L464.4 239.0L466.7 238.2L468.9 238.0L471.2 237.9L473.5 237.7L475.0 236.3L476.4 235.0L478.2 233.6L477.8 229.9L476.1 228.8L477.6 226.8L479.1 224.8L480.3 222.8L481.6 220.8L483.4 219.7L485.2 218.6L487.4 218.1L489.6 217.6L491.7 217.0L493.9 216.5L494.5 218.8L495.0 221.1L495.4 223.4L495.7 225.8L497.7 229.2L498.3 231.8L498.9 234.4L499.5 237.0L499.5 240.4L499.5 243.8L500.2 247.3L500.8 250.8L501.5 251.4L500.1 252.9L500.8 253.7L500.2 255.6L502.0 254.1L503.3 253.7L504.7 253.2L506.4 252.7L508.0 252.2L510.0 249.9L509.1 252.2L511.0 251.1L512.9 250.0L511.0 251.8L509.1 253.6L506.6 255.1L504.1 256.6L501.9 257.4L499.7 258.2L498.9 257.1L499.1 254.1L496.0 253.1L492.9 252.1L490.0 250.4L487.1 247.2L484.6 247.7L482.1 248.3L479.6 248.8L477.1 249.3L474.6 249.8L472.1 250.3L469.6 250.8L467.1 251.3L464.6 251.8L462.1 252.2L459.6 252.7L457.1 253.1L456.7 250.6Z" fill="#f3f2f0"/>
<path d="M499.5 243.8L501.9 243.3L504.3 242.8L506.5 242.3L508.8 241.8L511.0 241.2L511.5 243.1L512.1 245.0L512.3 247.7L510.5 248.4L508.7 249.1L507.1 249.7L505.4 250.2L503.0 252.2L500.8 253.7L500.1 252.9L501.5 251.4L500.8 250.8L500.2 247.3L499.5 243.8Z" fill="#eef0f2"/>
<path d="M511.0 241.2L512.4 240.8L513.8 240.5L514.1 241.6L515.0 242.8L515.9 243.4L516.8 244.8L515.7 245.4L514.6 243.4L514.9 246.3L513.6 247.0L512.3 247.7L512.1 245.0L511.5 243.1L511.0 241.2Z" fill="#f6ecdc"/>
<path d="M499.5 237.0L501.3 236.6L503.2 236.2L505.0 235.8L507.6 235.3L510.1 234.7L512.7 234.1L512.9 233.7L514.6 231.9L515.4 231.6L517.5 233.3L515.8 235.2L515.6 236.8L517.6 237.7L518.9 239.8L520.3 241.1L522.0 240.5L523.6 240.0L522.6 238.3L521.6 237.9L523.2 238.3L524.4 241.0L522.1 242.2L519.9 243.6L519.5 242.1L517.7 244.5L516.8 244.8L515.9 243.4L515.0 242.8L514.1 241.6L513.8 240.5L512.4 240.8L511.0 241.2L508.8 241.8L506.5 242.3L504.3 242.8L501.9 243.3L499.5 243.8L499.5 240.4L499.5 237.0Z" fill="#f3f1ec"/>
<path d="M493.9 216.5L496.3 215.9L498.7 215.3L501.0 214.7L503.4 214.0L505.8 213.4L506.1 215.3L506.5 217.2L505.4 219.7L504.3 222.2L504.2 226.1L503.8 229.6L504.4 233.4L505.0 235.8L503.2 236.2L501.3 236.6L499.5 237.0L498.9 234.4L498.3 231.8L497.7 229.2L495.7 225.8L495.4 223.4L495.0 221.1L494.5 218.8L493.9 216.5Z" fill="#eef0f2"/>
<path d="M505.8 213.4L505.9 211.3L507.8 210.0L508.7 213.0L509.6 216.0L510.5 219.0L511.4 221.7L512.2 224.4L513.1 227.2L514.7 228.5L515.8 229.7L515.4 231.6L514.6 231.9L512.9 233.7L512.7 234.1L510.1 234.7L507.6 235.3L505.0 235.8L504.4 233.4L503.8 229.6L504.2 226.1L504.3 222.2L505.4 219.7L506.5 217.2L506.1 215.3L505.8 213.4Z" fill="#efefef"/>
<path d="M507.8 210.0L509.4 210.1L510.2 207.4L511.0 204.8L510.9 200.9L511.5 198.3L512.3 194.6L513.1 190.9L513.9 187.3L515.4 188.4L516.7 189.2L518.3 187.9L519.9 186.5L521.8 187.3L523.8 188.1L524.8 191.5L525.9 194.9L526.9 198.4L527.5 199.3L530.0 200.7L530.7 202.6L531.4 204.6L533.5 204.3L535.3 206.9L533.7 208.9L532.1 210.8L530.4 212.3L528.8 213.8L527.0 214.8L524.5 213.6L524.3 215.7L524.0 217.7L522.0 219.8L519.9 221.8L518.8 222.9L517.7 223.9L516.3 227.8L515.8 229.7L514.7 228.5L513.1 227.2L512.2 224.4L511.4 221.7L510.5 219.0L509.6 216.0L508.7 213.0L507.8 210.0Z" fill="#eceef0"/>
<path d="M425.6 285.5L425.2 282.0L424.8 278.4L424.4 274.9L424.0 271.3L423.6 267.8L423.2 264.3L422.8 260.7L425.2 260.4L427.5 260.2L429.8 259.9L432.1 259.5L433.8 260.2L435.5 260.8L437.7 261.5L440.1 260.9L442.5 260.3L444.5 260.0L446.7 258.0L448.8 255.9L450.4 255.1L451.9 254.2L452.5 257.3L453.0 260.5L453.5 263.6L454.0 266.7L453.7 268.1L453.8 271.0L453.4 273.5L453.0 275.9L451.1 279.1L448.7 280.7L447.6 282.5L445.3 284.3L445.1 287.7L442.5 289.8L440.2 287.0L437.9 288.5L436.0 288.6L434.2 288.7L432.3 288.3L430.4 287.8L427.9 285.2L425.6 285.5Z" fill="#e9ecf0"/>
<path d="M422.8 260.7L420.5 261.0L418.1 261.2L415.8 261.4L413.5 261.6L411.1 261.8L408.8 262.0L406.3 263.4L404.0 263.0L404.3 266.7L404.7 270.4L405.0 274.1L405.3 277.8L405.6 281.5L405.9 285.2L405.7 288.5L406.3 290.9L406.9 293.2L405.2 295.3L403.9 297.3L403.5 300.2L404.5 299.1L406.8 298.3L408.6 298.9L410.4 299.6L412.5 297.6L414.6 296.8L415.9 295.7L417.9 297.2L419.7 294.1L420.8 291.8L421.9 289.5L423.8 287.5L425.6 285.5L425.2 282.0L424.8 278.4L424.4 274.9L424.0 271.3L423.6 267.8L423.2 264.3L422.8 260.7Z" fill="#eef0f2"/>
<path d="M401.4 255.7L399.0 255.9L396.5 256.1L394.1 256.3L391.6 256.5L389.2 256.6L386.7 256.8L384.3 256.9L381.8 257.0L384.3 256.9L386.7 256.8L389.2 256.6L391.6 256.5L394.1 256.3L396.5 256.1L399.0 255.9L401.4 255.7L402.4 258.7L403.3 261.6L404.0 263.0L404.3 266.7L404.7 270.4L405.0 274.1L405.3 277.8L405.6 281.5L405.9 285.2L405.7 288.5L406.3 290.9L406.9 293.2L405.2 295.3L403.9 297.3L403.5 300.2L403.0 301.2L402.9 303.4L400.6 304.5L400.0 307.1L398.4 306.8L396.9 306.4L396.1 308.6L393.7 307.6L393.2 305.7L391.5 303.0L389.8 300.3L388.1 298.9L386.4 297.6L387.2 293.8L387.5 291.8L385.8 291.5L384.1 291.1L383.3 289.2L380.6 286.1L378.3 283.3L377.1 281.0L377.5 277.4L379.6 274.7L380.6 271.8L379.4 269.5L380.0 267.4L381.8 266.7L383.7 265.9L385.5 263.5L385.6 261.6L383.7 259.3L381.8 257.0L384.3 256.9L386.7 256.8L389.2 256.6L391.6 256.5L394.1 256.3L396.5 256.1L399.0 255.9Z" fill="#e7eaee"/>
<path d="M401.4 255.7L401.1 252.4L400.8 249.0L400.9 246.2L401.0 243.3L401.5 240.9L401.9 238.5L402.4 236.1L402.8 233.7L403.6 231.5L404.4 229.3L403.2 231.0L402.1 232.8L400.2 234.6L398.4 236.4L399.5 233.8L400.6 231.1L398.7 228.9L397.7 226.8L396.7 224.8L394.3 223.9L392.0 223.1L390.0 222.2L387.7 221.7L385.5 221.1L383.3 220.6L381.1 218.7L379.5 217.0L377.8 215.3L375.9 216.3L373.4 217.2L370.8 218.0L369.0 218.4L369.1 221.2L369.2 224.0L368.8 224.4L366.6 225.7L365.5 228.5L367.1 230.3L366.5 234.1L366.3 236.5L368.0 237.6L369.7 238.7L372.5 240.5L374.2 241.8L376.0 243.2L376.9 245.0L377.4 247.8L378.4 250.6L378.0 253.5L380.0 255.4L381.8 257.0L384.3 256.9L386.7 256.8L389.2 256.6L391.6 256.5L394.1 256.3L396.5 256.1L399.0 255.9L401.4 255.7Z" fill="#eceef1"/>
<path d="M381.1 218.7L383.0 217.2L384.9 215.8L387.5 214.9L390.0 214.0L391.8 212.0L393.5 210.0L395.4 209.5L397.3 209.0L396.2 211.3L395.1 213.6L393.7 215.6L395.5 215.3L397.3 215.0L399.1 214.7L400.7 217.8L402.4 217.8L404.2 217.8L405.9 217.8L407.7 216.6L409.6 215.4L411.8 214.8L414.0 214.2L416.2 213.7L418.8 216.4L420.4 215.7L422.3 217.8L423.9 220.0L425.2 220.1L426.5 220.1L424.6 220.4L422.6 220.6L420.7 220.9L418.7 221.1L418.6 221.9L416.0 221.1L413.4 220.3L410.9 221.5L408.4 222.7L406.9 224.3L406.7 225.7L405.3 225.2L404.0 224.6L402.3 227.8L400.6 231.1L398.7 228.9L397.7 226.8L396.7 224.8L394.3 223.9L392.0 223.1L390.0 222.2L387.7 221.7L385.5 221.1L383.3 220.6L381.1 218.7ZM432.1 259.5L429.8 259.9L427.5 260.2L425.2 260.4L422.8 260.7L420.5 261.0L418.1 261.2L415.8 261.4L413.5 261.6L411.1 261.8L408.8 262.0L410.7 258.5L411.4 255.2L412.1 251.9L411.5 250.0L411.0 248.1L410.1 244.6L409.3 241.1L409.7 238.5L410.1 235.8L410.7 233.6L411.3 231.4L412.5 230.1L413.7 228.8L414.0 230.7L414.4 232.7L414.8 230.4L415.3 228.1L417.1 224.1L418.7 222.7L420.5 223.2L422.4 223.7L425.0 224.8L427.6 225.9L428.1 228.4L429.0 231.8L429.9 235.3L428.2 237.5L426.4 239.6L426.7 241.9L428.2 240.3L429.7 238.7L431.1 237.9L432.5 237.2L434.0 239.2L435.5 241.2L436.4 244.0L437.3 246.7L437.5 250.0L435.8 251.8L434.1 253.6L433.8 256.3L432.1 259.5Z" fill="#eceef1"/>
<path d="M479.6 409.7L477.5 412.9L475.6 414.4L473.6 415.8L470.7 417.0L467.8 418.2L467.7 417.5L470.6 416.2L473.5 414.9L475.4 413.4L477.4 412.0Z" fill="#f4f2ec"/>
<path d="M519.4 245.6L520.5 244.3L521.6 244.8L520.1 245.6Z" fill="#f3f1ec"/>
<path d="M523.2 245.0L524.8 244.2L525.2 244.9L523.7 245.4Z" fill="#f3f1ec"/>
<path d="M388.1 205.7L390.2 204.2L392.3 202.6L392.7 203.1L390.7 204.6L388.8 206.2Z" fill="#eceef1"/>
<ellipse cx="160.8" cy="314.9" rx="1.6" ry="0.5" fill="#ecdcd8"/>
<ellipse cx="163.6" cy="315.6" rx="1.2" ry="0.5" fill="#ecdcd8"/>
<ellipse cx="170.4" cy="323.6" rx="0.9" ry="0.7" fill="#ecdcd8"/>
<ellipse cx="163.3" cy="322.9" rx="0.5" ry="0.5" fill="#ecdcd8"/>
<ellipse cx="169.9" cy="328.3" rx="0.6" ry="0.9" fill="#ecdcd8"/>
<path d="M183.9 74.4L184.4 76.1L185.0 77.9L185.5 79.6L186.0 81.3L186.5 83.1L187.0 84.9L187.5 86.6L188.0 88.4L188.6 90.1L189.1 91.9L189.6 93.6L190.1 95.4L190.6 97.2L191.1 98.9L191.7 100.7L192.2 102.5L192.7 104.2L193.2 106.0L193.7 107.8L194.2 109.6L194.8 111.3L195.3 113.1L195.8 114.9L196.3 116.6L197.2 116.6L198.1 116.5L199.0 116.4L199.9 116.3L200.8 116.2L202.2 117.3L203.5 118.3L204.9 119.4L206.3 120.4L206.7 119.3L207.2 118.2L207.7 117.1L208.2 116.3L208.8 115.5L209.3 114.7L210.3 115.6L211.3 116.5L212.6 117.2L213.9 117.8L215.2 118.4L216.5 119.0L217.9 120.2L219.4 121.4L220.9 122.5L222.4 123.7L223.7 124.2L225.1 124.7L226.5 125.2L227.9 125.7L229.3 126.2L229.8 127.5L230.3 128.8L230.9 130.1L230.3 130.8L229.7 131.4L229.1 132.0L228.2 132.6L227.3 133.1L226.4 133.6L225.5 134.1L224.3 133.6L223.1 133.1L221.9 132.6L220.6 131.6L219.2 130.7L217.9 129.7L216.6 128.8L215.3 128.0L214.1 127.1L212.8 126.1L211.6 125.0L210.4 123.9L209.5 122.8L208.4 122.4L207.4 122.0L206.3 121.6L205.3 121.3L204.2 120.8L203.1 120.4L202.1 119.9L201.0 119.5L200.0 119.0L199.1 119.0L198.1 118.9L197.2 118.8L196.3 118.8L195.4 118.7L194.5 118.7L193.6 118.9L192.6 119.1L191.7 119.4L190.8 119.6L189.9 119.8L188.9 119.6L187.9 119.3L186.8 119.1L185.8 118.8L184.8 118.6L183.9 118.5L182.9 118.4L181.9 118.3L181.0 118.2L180.0 118.1L179.8 120.0L179.6 122.0L178.7 122.6L177.9 123.2L177.0 123.9L176.2 124.4L175.5 124.9L174.7 125.4L173.9 125.9L173.1 126.4L172.3 126.9L172.5 125.0L172.6 123.0L172.6 121.4L172.6 119.7L173.3 119.0L173.9 118.3L174.6 117.6L175.2 116.9L174.5 117.4L173.8 117.8L173.1 118.2L172.5 118.9L171.8 119.6L171.1 120.2L170.4 120.9L169.8 122.9L169.2 124.9L168.4 126.1L167.5 127.3L166.7 128.4L167.6 129.3L168.5 130.2L167.9 131.5L167.1 132.8L166.4 134.2L165.5 135.0L164.5 135.8L163.6 136.6L162.6 137.5L161.6 138.3L160.6 139.3L159.6 140.3L158.6 141.2L157.6 142.2L156.6 143.2L155.5 143.8L154.5 144.4L153.4 144.9L152.4 145.5L151.3 146.1L150.2 146.4L149.1 146.8L148.0 147.1L147.0 147.5L145.9 147.8L144.9 148.1L144.0 148.4L143.1 148.6L142.2 148.8L141.3 149.0L140.4 149.2L139.5 149.4L139.6 147.9L140.6 147.7L141.6 147.5L142.6 147.3L143.6 147.1L144.5 146.8L145.6 146.2L146.6 145.5L147.6 144.8L148.7 144.1L149.7 143.6L150.7 143.0L151.6 142.4L152.6 141.8L153.6 141.0L154.6 140.2L155.5 139.3L156.5 138.5L157.3 136.9L158.1 135.3L158.9 133.7L159.4 131.7L160.0 129.8L159.0 130.0L158.1 130.1L157.2 130.3L156.3 130.4L155.4 130.3L154.5 130.2L153.6 130.1L152.6 130.0L151.8 130.2L150.9 130.4L150.0 130.5L149.1 130.7L148.2 130.9L148.0 129.2L147.8 127.5L147.3 125.9L146.8 124.2L145.9 124.3L145.0 124.3L144.1 124.4L143.2 124.5L142.3 123.5L141.5 122.5L140.6 121.4L140.1 119.8L139.7 118.2L139.2 116.6L140.1 115.1L141.0 113.6L141.8 112.0L142.5 110.7L143.1 109.3L144.0 109.0L144.8 108.6L145.7 108.3L146.6 108.0L147.4 107.6L148.2 107.5L149.0 107.4L149.8 107.3L150.6 107.2L150.7 105.8L150.9 104.4L151.1 103.0L150.4 103.1L149.7 103.2L149.0 103.2L148.3 103.3L147.6 103.4L146.9 103.3L146.1 103.2L145.4 103.1L144.7 103.0L144.0 102.8L143.3 102.7L142.5 102.6L141.8 102.2L141.1 101.8L140.4 101.4L139.6 100.9L138.9 99.9L138.3 98.9L137.6 97.9L136.9 96.8L137.8 96.2L138.6 95.6L139.5 95.0L140.3 94.4L141.1 94.2L141.9 93.9L142.6 93.7L143.4 93.5L144.2 93.3L144.8 94.3L145.4 95.2L146.2 95.2L146.9 95.1L147.7 95.1L148.5 95.0L149.3 94.9L149.1 93.5L149.0 92.1L148.3 91.7L147.6 91.3L146.9 91.0L146.2 90.6L145.9 89.1L145.5 87.7L144.8 87.1L144.1 86.5L143.5 85.9L142.8 85.3L142.1 84.6L141.7 84.5L141.2 84.4L140.8 84.3L141.4 83.0L142.1 81.8L142.7 81.8L143.3 81.8L144.0 81.7L144.6 81.7L145.2 81.7L145.9 81.6L146.5 80.4L147.1 79.2L147.7 78.0L148.4 77.5L149.0 76.9L149.7 76.3L150.3 75.8L150.9 75.3L151.6 74.9L152.2 74.4L152.9 74.0L153.5 73.5L154.1 73.2L154.7 72.9L155.3 72.6L155.9 72.3L156.4 72.0L157.0 71.7L157.6 71.4L158.1 71.1L158.8 71.4L159.4 71.7L160.1 72.0L160.7 72.4L161.4 72.7L162.0 72.8L162.5 73.0L163.1 73.1L163.7 73.3L164.3 73.4L164.9 73.5L165.5 73.7L166.1 73.7L166.8 73.8L167.4 73.8L168.1 73.9L168.8 73.9L169.3 74.0L169.9 74.1L170.5 74.1L171.1 74.2L171.7 74.3L172.3 74.3L172.9 74.4L173.5 74.4L174.1 74.4L174.7 74.4L175.3 74.5L175.9 74.5L176.5 74.5L177.1 74.5L177.7 74.2L178.4 74.0L179.0 73.7L179.6 73.5L180.2 73.2L180.9 73.5L181.7 73.7L182.4 73.9L183.2 74.2ZM166.8 138.4L167.7 138.2L168.7 138.0L169.6 137.8L170.6 137.6L171.2 136.6L171.9 135.5L172.5 134.5L171.9 133.2L171.2 131.8L170.6 132.3L170.0 132.9L169.4 133.4L168.7 134.0L168.0 134.5L167.2 135.0L167.0 136.7ZM135.6 122.4L136.5 122.2L137.4 121.9L138.3 121.7L138.9 122.7L139.5 123.7L138.8 124.0L138.0 124.2L137.3 124.5L136.7 123.8L136.2 123.1ZM127.9 106.0L128.8 105.8L129.6 105.5L130.4 105.3L131.3 105.1L131.9 105.6L132.5 106.0L133.1 106.5L133.7 107.0L134.3 107.4L133.6 107.8L132.8 108.2L132.0 108.6L131.4 108.1L130.8 107.6L130.1 107.2L129.5 106.7L129.0 106.5L128.5 106.2ZM139.2 149.6L138.2 150.2L137.1 150.8L136.0 151.4L134.9 151.9L133.8 152.4L132.7 152.9L131.6 153.3L130.5 154.0L129.3 154.6L128.2 155.2L127.0 155.8L126.6 156.5L127.8 156.1L128.9 155.6L130.0 155.2L131.2 154.7L132.2 154.3L133.3 153.9L134.3 153.5L135.3 153.0L136.5 152.2L137.7 151.3L138.9 150.5ZM123.8 156.1L124.3 155.6L125.2 155.7L125.5 156.3L125.0 156.8L124.1 156.7ZM115.7 157.1L116.3 156.7L117.1 156.8L117.4 157.4L116.9 157.8L116.1 157.6ZM109.6 156.5L110.6 156.1L111.5 156.3L112.3 156.5L113.0 157.2L112.1 157.6L111.2 157.4L110.4 157.2ZM103.3 156.4L104.1 155.9L105.2 156.1L105.6 157.0L104.9 157.5L103.7 157.2ZM99.7 155.6L100.4 155.2L101.4 155.5L101.7 156.2L101.1 156.6L100.1 156.3ZM95.7 156.4L96.4 156.1L97.5 156.5L97.9 157.1L97.2 157.4L96.1 157.0ZM87.6 150.8L88.2 150.5L89.0 150.8L89.3 151.4L88.7 151.7L87.9 151.4ZM76.3 141.7L77.1 141.4L78.1 141.9L78.4 142.6L77.7 142.9L76.6 142.5ZM78.7 145.3L79.2 145.0L79.9 145.3L80.0 145.9L79.5 146.2L78.8 145.9ZM126.1 135.4L126.3 135.2L126.7 135.2L126.9 135.6L126.6 135.8L126.2 135.7ZM127.5 138.5L127.7 138.3L128.0 138.4L128.1 138.6L127.9 138.8L127.6 138.8Z" fill="#f1f0ef"/>
<path d="M143.2 400.2L146.4 401.3L150.3 402.9L154.2 405.2L156.5 408.3L158.8 409.9L156.5 412.2L153.4 413.8L150.3 416.1L147.9 418.9L145.6 418.0L144.0 414.5L143.2 411.4L141.7 408.3L142.9 406.0L144.0 403.6ZM132.3 390.9L134.7 390.4L136.2 391.9L138.6 391.2L140.9 392.3L142.0 394.0L140.1 395.8L137.8 396.6L136.2 395.1L134.7 393.5L132.6 392.7ZM124.2 388.4L131.6 388.1L132.0 389.3L129.2 389.9L124.5 390.4ZM127.7 392.3L130.0 392.3L130.8 394.0L128.9 394.6L127.3 393.5ZM132.3 397.1L134.7 396.2L135.1 397.1L133.1 398.0ZM111.3 384.2L114.4 382.1L116.0 383.4L116.8 385.7L119.6 387.7L118.3 388.8L115.2 388.1L112.9 386.8ZM91.3 377.5L93.4 375.9L96.5 375.9L97.7 377.9L96.8 380.3L94.2 381.2L91.8 380.3ZM85.1 381.8L87.1 379.5L87.9 379.9L86.1 382.6Z" fill="#e9ebee"/>
</g>
<path d="M496 288.3L510.5 297.8" stroke="#e2e2e2" stroke-width="0.8" fill="none"/>
<path d="M512 293.9L517 298.1L513.8 302.8L509.8 297.6Z" fill="#eceef0" stroke="#e4e4e4" stroke-width="0.6"/>
<path d="M436.9 308.0L438.9 306.6L440.9 305.1L443.6 302.8L445.9 300.1L448.2 297.4L450.8 300.3L452.5 299.8L454.1 299.4L456.7 298.1L459.3 296.7L460.4 295.4L460.9 294.5L462.1 290.8L462.8 287.8L463.4 284.8L466.2 286.0L466.6 285.3L467.7 282.1L468.7 282.2L470.6 279.6L471.3 275.6L473.4 276.5L475.5 277.4L475.9 275.5L477.9 277.2L480.9 278.3L481.7 279.5L480.6 281.5L480.6 283.5L482.9 284.0L484.5 284.4L486.1 284.8L489.0 286.1L489.3 289.4L489.8 291.7L490.3 294.1L492.8 295.2L494.5 298.5L491.7 299.1L488.8 299.7L486.0 300.2L483.2 300.8L480.3 301.3L477.5 301.8L474.6 302.3L471.8 302.8L468.9 303.3L466.0 303.8L463.2 304.3L460.3 304.7L457.5 305.2L454.6 305.6L451.7 306.0L448.8 306.4L445.8 306.9L442.8 307.3L439.9 307.6L436.9 308.0ZM492.6 293.4L493.7 290.8L494.7 288.3L495.5 286.0L496.2 283.7L494.7 284.3L493.1 284.8L492.5 287.1L491.9 289.3L491.9 292.7Z" fill="#91a8c2" stroke="#000" stroke-width="2" stroke-linejoin="round"/>
</g>
<g id="head">
<text x="301.5" y="14.3" font-size="16.6" fill="#1a1a1a" font-weight="bold" text-anchor="start" textLength="185.4" lengthAdjust="spacingAndGlyphs">Business Applications</text>
<text x="281" y="30.9" font-size="12.4" fill="#222" font-weight="normal" text-anchor="start" textLength="226" lengthAdjust="spacingAndGlyphs">Change From April 2022 to May 2022</text>
<text x="329" y="46.5" font-size="12.4" fill="#222" font-weight="normal" text-anchor="start" textLength="128" lengthAdjust="spacingAndGlyphs">(Seasonally Adjusted)</text>
<text x="267.4" y="90.6" font-size="12" fill="#747474" font-weight="normal" text-anchor="start" textLength="28.9" lengthAdjust="spacingAndGlyphs">Type:</text>
<text x="267.4" y="115.6" font-size="12" fill="#747474" font-weight="normal" text-anchor="start" textLength="39.5" lengthAdjust="spacingAndGlyphs">Month:</text>
<text x="267.4" y="142.4" font-size="12" fill="#747474" font-weight="normal" text-anchor="start" textLength="44.2" lengthAdjust="spacingAndGlyphs">Change:</text>
<path d="M643.5 75.5H322.5V94.5H643.5" fill="#fff" stroke="#a8a8a8" stroke-width="1"/>
<rect x="340.5" y="103.5" width="136" height="19" fill="#fff" stroke="#a8a8a8"/>
<rect x="341.5" y="127.5" width="157" height="19" fill="#fff" stroke="#a8a8a8"/>
<text x="326.5" y="89" font-size="10.5" fill="#666" font-weight="normal" text-anchor="start" textLength="113" lengthAdjust="spacingAndGlyphs">Business Applications</text>
<text x="344.5" y="116.5" font-size="10.5" fill="#666" font-weight="normal" text-anchor="start" textLength="50" lengthAdjust="spacingAndGlyphs">May 2022</text>
<text x="345.5" y="141" font-size="10.5" fill="#666" font-weight="normal" text-anchor="start" textLength="86" lengthAdjust="spacingAndGlyphs">Month-to-Month</text>
<path d="M630.7 82.8H637.3L634 87.0Z" fill="#2e2e2e"/>
<path d="M463.7 110.8H470.3L467 115.0Z" fill="#2e2e2e"/>
<path d="M485.7 134.79999999999998H492.3L489 139.0Z" fill="#2e2e2e"/>
<defs><linearGradient id="hg" x1="0" y1="0" x2="0" y2="1"><stop offset="0" stop-color="#3084e6"/><stop offset="1" stop-color="#0a40a8"/></linearGradient></defs>
<circle cx="678.9" cy="83.1" r="18.2" fill="url(#hg)" stroke="#0a0a14" stroke-width="1.6"/>
<text x="0" y="94.9" font-size="36" fill="#fff" font-weight="normal" text-anchor="middle" stroke="#fff" stroke-width="1" stroke-linejoin="round" transform="translate(679.3 0) scale(0.84 1)">?</text>
<text x="632.1" y="249.5" font-size="15" fill="#444" font-weight="normal" text-anchor="start" textLength="67.8" lengthAdjust="spacingAndGlyphs">May 2022</text>
<text x="632.5" y="271.7" font-size="15" fill="#444" font-weight="normal" text-anchor="start" textLength="66.9" lengthAdjust="spacingAndGlyphs">U.S. Total</text>
<rect x="632.5" y="273" width="66.9" height="1.1" fill="#444"/>
<text x="607.5" y="308.7" font-size="12.5" fill="#555" font-weight="normal" text-anchor="start" textLength="132" lengthAdjust="spacingAndGlyphs">420,586 Applications</text>
<defs><linearGradient id="lg" x1="0" y1="0" x2="1" y2="0"><stop offset="0" stop-color="#5b80ab"/><stop offset="0.2" stop-color="#8fa6c2"/><stop offset="0.37" stop-color="#cfd4da"/><stop offset="0.40" stop-color="#e9dccb"/><stop offset="0.46" stop-color="#f3c08a"/><stop offset="0.6" stop-color="#e8924a"/><stop offset="0.78" stop-color="#d4693a"/><stop offset="1" stop-color="#a3452e"/></linearGradient></defs>
<rect x="607.1" y="372" width="115.6" height="11.8" fill="url(#lg)"/>
<rect x="651.9" y="379" width="1.3" height="6.2" fill="#000"/>
<text x="628.7" y="403" font-size="10.5" fill="#555" font-weight="normal" text-anchor="start" textLength="49.6" lengthAdjust="spacingAndGlyphs">% Change</text>
<rect x="494" y="320" width="274.4" height="61.3" fill="#cecece"/>
<rect x="492.5" y="318.5" width="274.5" height="61.2" fill="#fff" stroke="#c9c9c9"/>
<text x="606.5" y="345.0" font-size="12.7" fill="#333" font-weight="normal" text-anchor="start" textLength="47.8" lengthAdjust="spacingAndGlyphs">Virginia</text>
<rect x="606.5" y="346.4" width="47.8" height="1" fill="#333"/>
<text x="505.4" y="362.9" font-size="12.7" fill="#333" font-weight="normal" text-anchor="start" textLength="189.6" lengthAdjust="spacingAndGlyphs" xml:space="preserve">Business Applications:  10484 (</text>
<text x="695.7" y="363.0" font-size="14.3" fill="#4878a8" font-weight="normal" text-anchor="start" style="font-family:DejaVu Sans,sans-serif">▼</text>
<text x="707.1" y="362.9" font-size="12.7" fill="#333" font-weight="normal" text-anchor="start" textLength="47.3" lengthAdjust="spacingAndGlyphs">-10.5%)</text>
</g>
<g id="bar">
<text x="87" y="496.1" font-size="12.9" fill="#242424" font-weight="normal" text-anchor="start" textLength="180.5" lengthAdjust="spacingAndGlyphs">Percent (%) Change by Region</text>
<rect x="77.7" y="507" width="1" height="191.4" fill="#eeeeee"/>
<rect x="133.6" y="507" width="1" height="191.4" fill="#eeeeee"/>
<rect x="245.5" y="507" width="1" height="191.4" fill="#eeeeee"/>
<rect x="301.5" y="507" width="1" height="191.4" fill="#eeeeee"/>
<rect x="357.5" y="507" width="1" height="191.4" fill="#eeeeee"/>
<rect x="66.2" y="507" width="1" height="187.5" fill="#ebebeb"/>
<rect x="66.2" y="693.6" width="302" height="1" fill="#ebebeb"/>
<path d="M190 507V693" stroke="#000" stroke-width="2.1" stroke-dasharray="2 2" fill="none"/>
<rect x="190.05" y="513" width="124.05" height="34.8" fill="#f4e1d0"/>
<rect x="190.05" y="559.8" width="5.15" height="34.9" fill="#f4e1d0"/>
<rect x="147.90" y="606" width="42.15" height="34.7" fill="#4e79a7"/>
<rect x="119.90" y="652.8" width="70.15" height="35.1" fill="#d6dce4"/>
<text x="32.5" y="535.8" font-size="12" fill="#808080" font-weight="normal" text-anchor="start" textLength="28.5" lengthAdjust="spacingAndGlyphs">West</text>
<text x="3.6" y="583" font-size="12" fill="#808080" font-weight="normal" text-anchor="start" textLength="57.4" lengthAdjust="spacingAndGlyphs">Northeast</text>
<text x="27.9" y="629" font-size="12" fill="#808080" font-weight="normal" text-anchor="start" textLength="32.5" lengthAdjust="spacingAndGlyphs">South</text>
<text x="11.8" y="675.6" font-size="12" fill="#808080" font-weight="normal" text-anchor="start" textLength="48.6" lengthAdjust="spacingAndGlyphs">Midwest</text>
<text x="319.5" y="534.8" font-size="12" fill="#c9c9c9" font-weight="normal" text-anchor="start" textLength="35.5" lengthAdjust="spacingAndGlyphs">11.1%</text>
<text x="199" y="582" font-size="12" fill="#c9c9c9" font-weight="normal" text-anchor="start" textLength="28.5" lengthAdjust="spacingAndGlyphs">0.5%</text>
<text x="109.5" y="627.9" font-size="12" fill="#1a1a1a" font-weight="normal" text-anchor="start" textLength="31.8" lengthAdjust="spacingAndGlyphs">-3.7%</text>
<text x="81.2" y="674.8" font-size="12" fill="#c9c9c9" font-weight="normal" text-anchor="start" textLength="32" lengthAdjust="spacingAndGlyphs">-6.2%</text>
<text x="66.4" y="713.5" font-size="12" fill="#7a7a7a" font-weight="normal" text-anchor="start" textLength="38.6" lengthAdjust="spacingAndGlyphs">-10.0%</text>
<text x="118.5" y="713.5" font-size="12" fill="#7a7a7a" font-weight="normal" text-anchor="start" textLength="31.5" lengthAdjust="spacingAndGlyphs">-5.0%</text>
<text x="180" y="713.5" font-size="12" fill="#7a7a7a" font-weight="normal" text-anchor="start" textLength="24.5" lengthAdjust="spacingAndGlyphs">0.0%</text>
<text x="232.8" y="713.5" font-size="12" fill="#7a7a7a" font-weight="normal" text-anchor="start" textLength="27.2" lengthAdjust="spacingAndGlyphs">5.0%</text>
<text x="284.5" y="713.5" font-size="12" fill="#7a7a7a" font-weight="normal" text-anchor="start" textLength="35.0" lengthAdjust="spacingAndGlyphs">10.0%</text>
<text x="332.5" y="713.5" font-size="12" fill="#7a7a7a" font-weight="normal" text-anchor="start" textLength="35.0" lengthAdjust="spacingAndGlyphs">15.0%</text>
</g>
<g id="line">
<text x="475" y="496.1" font-size="12.9" fill="#242424" font-weight="normal" text-anchor="start" textLength="187.5" lengthAdjust="spacingAndGlyphs">Business Applications - Virginia</text>
<rect x="408" y="507" width="1" height="188" fill="#eeeeee"/>
<rect x="408" y="694.2" width="352" height="1" fill="#e6e6e6"/>
<rect x="408" y="553.5" width="352" height="1.8" fill="#eeeeee"/>
<rect x="408" y="623.8000000000001" width="352" height="1.8" fill="#eeeeee"/>
<text x="402.7" y="558.6" font-size="12" fill="#777" font-weight="normal" text-anchor="end">10K</text>
<text x="402.7" y="629" font-size="12" fill="#777" font-weight="normal" text-anchor="end">5K</text>
<text x="402.7" y="689.3" font-size="12" fill="#777" font-weight="normal" text-anchor="end">0K</text>
<rect x="409.1" y="695" width="1" height="1.3" fill="#8a8a8a"/>
<rect x="413.9" y="695" width="1" height="4.5" fill="#6e6e6e"/>
<rect x="418.7" y="695" width="1" height="1.3" fill="#8a8a8a"/>
<rect x="423.5" y="695" width="1" height="1.3" fill="#8a8a8a"/>
<rect x="428.3" y="695" width="1" height="1.3" fill="#8a8a8a"/>
<rect x="433.1" y="695" width="1" height="1.3" fill="#8a8a8a"/>
<rect x="437.8" y="695" width="1" height="1.3" fill="#8a8a8a"/>
<rect x="442.6" y="695" width="1" height="1.3" fill="#8a8a8a"/>
<rect x="447.4" y="695" width="1" height="1.3" fill="#8a8a8a"/>
<rect x="452.2" y="695" width="1" height="4.5" fill="#6e6e6e"/>
<rect x="457.0" y="695" width="1" height="1.3" fill="#8a8a8a"/>
<rect x="461.8" y="695" width="1" height="1.3" fill="#8a8a8a"/>
<rect x="466.6" y="695" width="1" height="1.3" fill="#8a8a8a"/>
<rect x="471.4" y="695" width="1" height="1.3" fill="#8a8a8a"/>
<rect x="476.1" y="695" width="1" height="1.3" fill="#8a8a8a"/>
<rect x="480.9" y="695" width="1" height="1.3" fill="#8a8a8a"/>
<rect x="485.7" y="695" width="1" height="1.3" fill="#8a8a8a"/>
<rect x="490.5" y="695" width="1" height="4.5" fill="#6e6e6e"/>
<rect x="495.3" y="695" width="1" height="1.3" fill="#8a8a8a"/>
<rect x="500.1" y="695" width="1" height="1.3" fill="#8a8a8a"/>
<rect x="504.9" y="695" width="1" height="1.3" fill="#8a8a8a"/>
<rect x="509.7" y="695" width="1" height="1.3" fill="#8a8a8a"/>
<rect x="514.4" y="695" width="1" height="1.3" fill="#8a8a8a"/>
<rect x="519.2" y="695" width="1" height="1.3" fill="#8a8a8a"/>
<rect x="524.0" y="695" width="1" height="1.3" fill="#8a8a8a"/>
<rect x="528.8" y="695" width="1" height="4.5" fill="#6e6e6e"/>
<rect x="533.6" y="695" width="1" height="1.3" fill="#8a8a8a"/>
<rect x="538.4" y="695" width="1" height="1.3" fill="#8a8a8a"/>
<rect x="543.2" y="695" width="1" height="1.3" fill="#8a8a8a"/>
<rect x="548.0" y="695" width="1" height="1.3" fill="#8a8a8a"/>
<rect x="552.7" y="695" width="1" height="1.3" fill="#8a8a8a"/>
<rect x="557.5" y="695" width="1" height="1.3" fill="#8a8a8a"/>
<rect x="562.3" y="695" width="1" height="1.3" fill="#8a8a8a"/>
<rect x="567.1" y="695" width="1" height="4.5" fill="#6e6e6e"/>
<rect x="571.9" y="695" width="1" height="1.3" fill="#8a8a8a"/>
<rect x="576.7" y="695" width="1" height="1.3" fill="#8a8a8a"/>
<rect x="581.5" y="695" width="1" height="1.3" fill="#8a8a8a"/>
<rect x="586.3" y="695" width="1" height="1.3" fill="#8a8a8a"/>
<rect x="591.0" y="695" width="1" height="1.3" fill="#8a8a8a"/>
<rect x="595.8" y="695" width="1" height="1.3" fill="#8a8a8a"/>
<rect x="600.6" y="695" width="1" height="1.3" fill="#8a8a8a"/>
<rect x="605.4" y="695" width="1" height="4.5" fill="#6e6e6e"/>
<rect x="610.2" y="695" width="1" height="1.3" fill="#8a8a8a"/>
<rect x="615.0" y="695" width="1" height="1.3" fill="#8a8a8a"/>
<rect x="619.8" y="695" width="1" height="1.3" fill="#8a8a8a"/>
<rect x="624.6" y="695" width="1" height="1.3" fill="#8a8a8a"/>
<rect x="629.3" y="695" width="1" height="1.3" fill="#8a8a8a"/>
<rect x="634.1" y="695" width="1" height="1.3" fill="#8a8a8a"/>
<rect x="638.9" y="695" width="1" height="1.3" fill="#8a8a8a"/>
<rect x="643.7" y="695" width="1" height="4.5" fill="#6e6e6e"/>
<rect x="648.5" y="695" width="1" height="1.3" fill="#8a8a8a"/>
<rect x="653.3" y="695" width="1" height="1.3" fill="#8a8a8a"/>
<rect x="658.1" y="695" width="1" height="1.3" fill="#8a8a8a"/>
<rect x="662.9" y="695" width="1" height="1.3" fill="#8a8a8a"/>
<rect x="667.6" y="695" width="1" height="1.3" fill="#8a8a8a"/>
<rect x="672.4" y="695" width="1" height="1.3" fill="#8a8a8a"/>
<rect x="677.2" y="695" width="1" height="1.3" fill="#8a8a8a"/>
<rect x="682.0" y="695" width="1" height="4.5" fill="#6e6e6e"/>
<rect x="686.8" y="695" width="1" height="1.3" fill="#8a8a8a"/>
<rect x="691.6" y="695" width="1" height="1.3" fill="#8a8a8a"/>
<rect x="696.4" y="695" width="1" height="1.3" fill="#8a8a8a"/>
<rect x="701.2" y="695" width="1" height="1.3" fill="#8a8a8a"/>
<rect x="705.9" y="695" width="1" height="1.3" fill="#8a8a8a"/>
<rect x="710.7" y="695" width="1" height="1.3" fill="#8a8a8a"/>
<rect x="715.5" y="695" width="1" height="1.3" fill="#8a8a8a"/>
<rect x="720.3" y="695" width="1" height="4.5" fill="#6e6e6e"/>
<rect x="725.1" y="695" width="1" height="1.3" fill="#8a8a8a"/>
<rect x="729.9" y="695" width="1" height="1.3" fill="#8a8a8a"/>
<rect x="734.7" y="695" width="1" height="1.3" fill="#8a8a8a"/>
<rect x="739.5" y="695" width="1" height="1.3" fill="#8a8a8a"/>
<rect x="744.2" y="695" width="1" height="1.3" fill="#8a8a8a"/>
<rect x="749.0" y="695" width="1" height="1.3" fill="#8a8a8a"/>
<rect x="753.8" y="695" width="1" height="1.3" fill="#8a8a8a"/>
<text x="452.7" y="714" font-size="12" fill="#777" font-weight="normal" text-anchor="middle" textLength="27.4" lengthAdjust="spacingAndGlyphs">2007</text>
<text x="491.0" y="714" font-size="12" fill="#777" font-weight="normal" text-anchor="middle" textLength="27.4" lengthAdjust="spacingAndGlyphs">2009</text>
<text x="529.3" y="714" font-size="12" fill="#777" font-weight="normal" text-anchor="middle" textLength="27.4" lengthAdjust="spacingAndGlyphs">2011</text>
<text x="567.6" y="714" font-size="12" fill="#777" font-weight="normal" text-anchor="middle" textLength="27.4" lengthAdjust="spacingAndGlyphs">2013</text>
<text x="605.9" y="714" font-size="12" fill="#777" font-weight="normal" text-anchor="middle" textLength="27.4" lengthAdjust="spacingAndGlyphs">2015</text>
<text x="644.2" y="714" font-size="12" fill="#777" font-weight="normal" text-anchor="middle" textLength="27.4" lengthAdjust="spacingAndGlyphs">2017</text>
<text x="682.5" y="714" font-size="12" fill="#777" font-weight="normal" text-anchor="middle" textLength="27.4" lengthAdjust="spacingAndGlyphs">2019</text>
<text x="720.8" y="714" font-size="12" fill="#777" font-weight="normal" text-anchor="middle" textLength="27.4" lengthAdjust="spacingAndGlyphs">2021</text>
<path d="M413.8 618.3L415.5 623.1L417.7 622.2L419.7 621.2L422.0 619.2L424.2 620.9L426.8 622.5L428.4 614.4L430.3 614.7L431.4 611.4L433.3 616.0L434.9 610.5L436.8 613.1L438.3 612.7L439.8 615.7L442.0 616.6L444.4 613.8L446.3 616.0L447.6 621.8L449.3 621.8L450.2 604.0L451.5 604.0L452.4 618.6L454.8 616.6L457.4 615.3L459.9 614.3L462.5 615.3L464.9 616.6L466.7 612.7L468.4 617.3L469.7 604.0L470.6 604.0L471.6 619.2L473.6 617.3L475.5 619.2L478.1 617.3L480.1 619.2L481.4 617.9L483.1 613.8L484.6 614.7L486.6 617.9L489.2 624.0L491.1 618.8L492.4 622.5L495.0 620.5L497.6 619.2L500.2 618.3L502.8 619.9L505.4 622.5L507.1 620.3L509.1 622.2L511.0 632.6L512.3 632.6L514.5 619.0L516.2 620.3L518.2 622.2L520.8 621.8L523.4 621.6L526.0 618.7L527.9 621.8L530.5 618.1L532.5 619.0L534.4 625.5L535.7 628.1L537.4 615.7L539.0 619.0L540.5 617.7L542.2 620.0L544.2 620.5L546.1 609.2L547.4 609.2L548.3 625.5L549.4 625.5L551.3 614.0L553.2 614.4L555.8 614.4L557.8 617.0L559.7 619.0L562.3 618.3L564.5 617.7L565.6 593.0L566.9 593.0L568.2 613.8L570.1 614.8L572.1 615.7L574.7 617.7L577.3 612.5L579.2 613.1L580.5 614.4L582.1 610.9L583.8 613.1L585.1 611.8L586.8 617.0L588.3 613.1L590.3 611.8L591.9 611.6L593.2 613.5L594.9 610.3L596.5 611.8L598.1 612.9L599.7 610.5L601.7 611.8L603.0 614.2L604.5 618.1L605.8 602.2L606.9 602.2L608.2 611.8L610.1 612.9L611.4 611.8L612.7 613.5L614.0 609.0L616.0 607.7L618.6 606.4L621.2 607.7L623.8 611.3L625.3 605.7L627.0 609.0L628.7 608.3L630.3 603.8L631.6 600.1L632.9 609.0L633.5 618.7L634.4 609.0L635.2 600.1L636.5 604.4L638.7 604.8L641.3 606.4L643.2 602.5L645.2 601.2L647.8 602.2L650.4 601.2L653.0 601.2L655.6 597.5L658.2 598.3L660.8 596.0L662.7 594.9L664.0 592.7L666.0 593.6L667.3 592.3L668.6 595.3L671.2 593.6L673.1 593.6L675.1 591.4L677.0 594.7L678.6 596.0L680.3 591.4L681.6 590.5L682.9 596.6L684.5 589.5L686.1 586.2L687.4 591.4L691.5 590.7L693.1 591.4L694.1 595.3L695.7 587.2L697.3 589.1L698.8 592.2L701.2 594.6L702.7 596.1L704.0 594.6L705.5 604.7L707.1 608.1L708.9 587.6L710.2 556.4L711.7 517.1L713.3 526.8L715.2 550.2L716.7 551.7L718.3 561.1L719.8 570.4L721.1 517.5L722.2 528.4L723.3 549.4L724.8 536.9L726.4 536.2L727.9 524.0L729.2 548.6L731.1 545.5L732.6 549.4L734.6 551.0L736.2 551.4L737.8 548.6L739.3 546.7L740.9 548.3L742.4 547.4L744.0 547.1L745.5 530.7L746.6 539.3L747.4 547.8" fill="none" stroke="#b3b3b3" stroke-width="2.6" stroke-linejoin="round" stroke-linecap="round"/>
<path d="M747 507V694" stroke="#9b9b9b" stroke-width="2" stroke-dasharray="2 2" fill="none"/>
</g>
<g id="foot">
<text x="516.5" y="768.2" font-size="15.3" fill="#111" font-weight="normal" text-anchor="start" textLength="242.5" lengthAdjust="spacingAndGlyphs">Source: Business Formation Statistics</text>
<text x="15.8" y="746.7" font-size="9.4" style='font-family:"Liberation Serif", serif' stroke="#111" stroke-width="0.25" fill="#111" textLength="50.2" lengthAdjust="spacingAndGlyphs">United States</text>
<text x="66.2" y="743.2" font-size="3.6" style='font-family:"Liberation Serif", serif' fill="#111">®</text>
<text x="2.4" y="759.8" font-size="20.8" fill="#111" font-weight="bold" text-anchor="start" textLength="64.2" lengthAdjust="spacingAndGlyphs" stroke="#111" stroke-width="0.7">Census</text>
<rect x="2.1" y="763" width="42.9" height="3.3" rx="1.6" fill="#111"/>
<text x="47.3" y="766.4" font-size="5.2" fill="#111" font-weight="bold" text-anchor="start" textLength="17.6" lengthAdjust="spacingAndGlyphs">Bureau</text>
<rect x="77" y="740" width="0.9" height="26.4" fill="#d4d4d4"/>
<text x="85" y="748.1" font-size="6" fill="#111" font-weight="bold" text-anchor="start" textLength="90.7" lengthAdjust="spacingAndGlyphs">U.S. Department of Commerce</text>
<text x="85" y="754.7" font-size="4" fill="#333" font-weight="bold" text-anchor="start" textLength="52.1" lengthAdjust="spacingAndGlyphs">U.S. CENSUS BUREAU</text>
<text x="85" y="761.9" font-size="5.7" fill="#111" font-weight="bold" text-anchor="start" textLength="32.6" lengthAdjust="spacingAndGlyphs" font-style="italic">census.gov</text>
</g>
</svg>
</body></html>
